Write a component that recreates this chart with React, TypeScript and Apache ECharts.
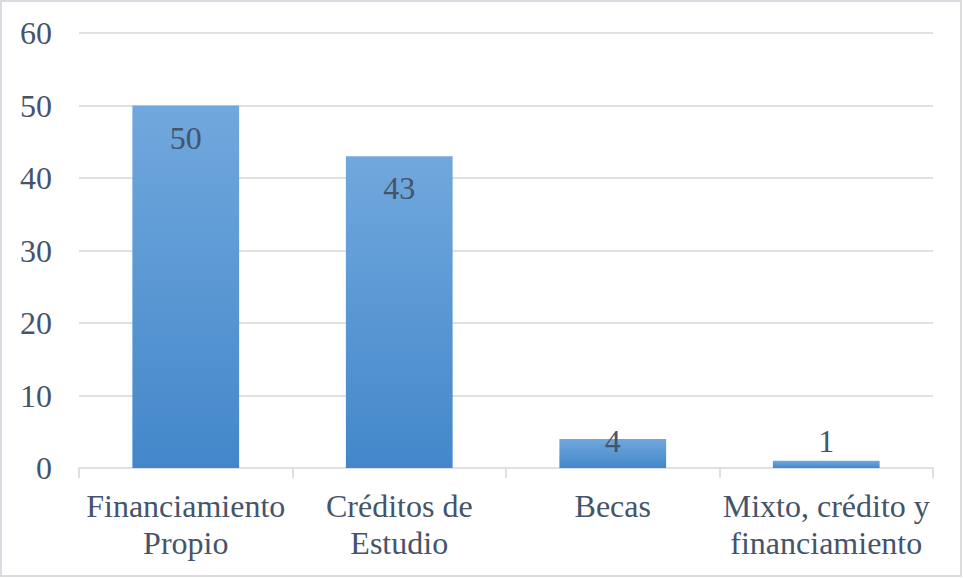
import React, { useEffect, useRef } from "react";
import * as echarts from "echarts";

const categories = ["Financiamiento\nPropio", "Créditos de\nEstudio", "Becas", "Mixto, crédito y\nfinanciamiento"];
const values = [50, 43, 4, 1];
const yTicks = { min: 0, max: 60, interval: 10 };

const TEXT = "#44546a";
const GRID = "#dde1e6";
const FONT = "Liberation Serif";

export default function App() {
  const ref = useRef<HTMLDivElement>(null);
  useEffect(() => {
    if (!ref.current) return;
    const chart = echarts.init(ref.current, undefined, { renderer: "svg" });
    chart.setOption({
      animation: false,
      backgroundColor: "#ffffff",
      textStyle: { fontFamily: FONT },
      graphic: [
        {
          type: "rect",
          shape: { x: 1, y: 1, width: 960, height: 575 },
          style: { fill: "none", stroke: "#d9dde3", lineWidth: 2 },
          silent: true,
        },
      ],
      grid: { left: 79, right: 30, top: 33, bottom: 110, containLabel: false },
      xAxis: {
        type: "category",
        data: categories,
        axisLine: { show: true, lineStyle: { color: GRID, width: 2 } },
        axisTick: { show: true, alignWithLabel: false, length: 10, lineStyle: { color: GRID, width: 2 } },
        axisLabel: {
          color: TEXT,
          fontFamily: FONT,
          fontSize: 32,
          lineHeight: 37,
          margin: 19,
          interval: 0,
        },
      },
      yAxis: {
        type: "value",
        min: yTicks.min,
        max: yTicks.max,
        interval: yTicks.interval,
        axisLine: { show: false },
        axisTick: { show: false },
        splitLine: { lineStyle: { color: GRID, width: 2 } },
        axisLabel: { color: TEXT, fontFamily: FONT, fontSize: 32, margin: 27 },
      },
      series: [
        {
          type: "bar",
          barWidth: "50%",
          data: values.map((v) => ({
            value: v,
            label:
              v >= 10
                ? { position: "insideTop", distance: 16 }
                : { position: "insideBottom", distance: 11 },
          })),
          itemStyle: {
            color: new echarts.graphic.LinearGradient(0, 0, 0, 1, [
              { offset: 0, color: "#71a8dd" },
              { offset: 1, color: "#4387ca" },
            ]),
          },
          label: {
            show: true,
            color: TEXT,
            fontFamily: FONT,
            fontSize: 32,
          },
        },
      ],
    });
    return () => chart.dispose();
  }, []);
  return (
    <div
      ref={ref}
      style={{ position: "fixed", left: 0, top: 0, width: 963, height: 578 }}
    />
  );
}
